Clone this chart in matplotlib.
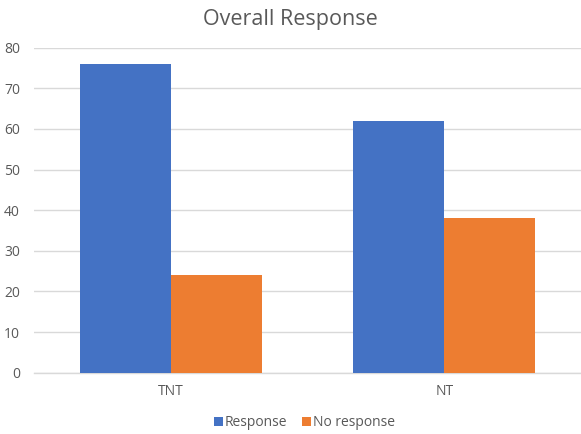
import matplotlib.pyplot as plt
import numpy as np

categories = ['TNT', 'NT']
response = [76, 62]
no_response = [24, 38]
y_ticks = [0, 10, 20, 30, 40, 50, 60, 70, 80]

plt.rcParams['font.family'] = ['Open Sans', 'DejaVu Sans']

fig = plt.figure(figsize=(5.81, 4.34), dpi=100)
ax = fig.add_axes([34 / 581, 1 - 372.7 / 434, 1 - 34 / 581, (372.7 - 47.7) / 434])

x = np.arange(len(categories))
width = 0.333
ax.bar(x - width / 2, response, width, color='#4472C4', label='Response', zorder=3)
ax.bar(x + width / 2, no_response, width, color='#ED7D31', label='No response', zorder=3)

ax.set_xlim(-0.5, len(categories) - 0.5)
ax.set_ylim(0, 80)
ax.set_yticks(y_ticks)
ax.set_xticks(x)
ax.set_xticklabels(categories)
ax.tick_params(axis='both', length=0, labelsize=10, labelcolor='#595959')
ax.tick_params(axis='x', pad=8)
ax.tick_params(axis='y', pad=10)
ax.grid(axis='y', color='#d9d9d9', linewidth=1, zorder=0)
for side in ['top', 'right', 'left']:
    ax.spines[side].set_visible(False)
ax.spines['bottom'].set_color('#d9d9d9')
ax.spines['bottom'].set_linewidth(1)

fig.text(0.5, 1 - 20 / 434, 'Overall Response', ha='center', va='center',
         fontsize=15.5, color='#595959')
fig.legend(loc='center', bbox_to_anchor=(304.5 / 581, 1 - 423 / 434), ncol=2, frameon=False,
           fontsize=10, labelcolor='#595959', handlelength=0.6, handleheight=0.6,
           handletextpad=0.15, columnspacing=1.1, borderpad=0)

fig.savefig('out.png', dpi=100)
